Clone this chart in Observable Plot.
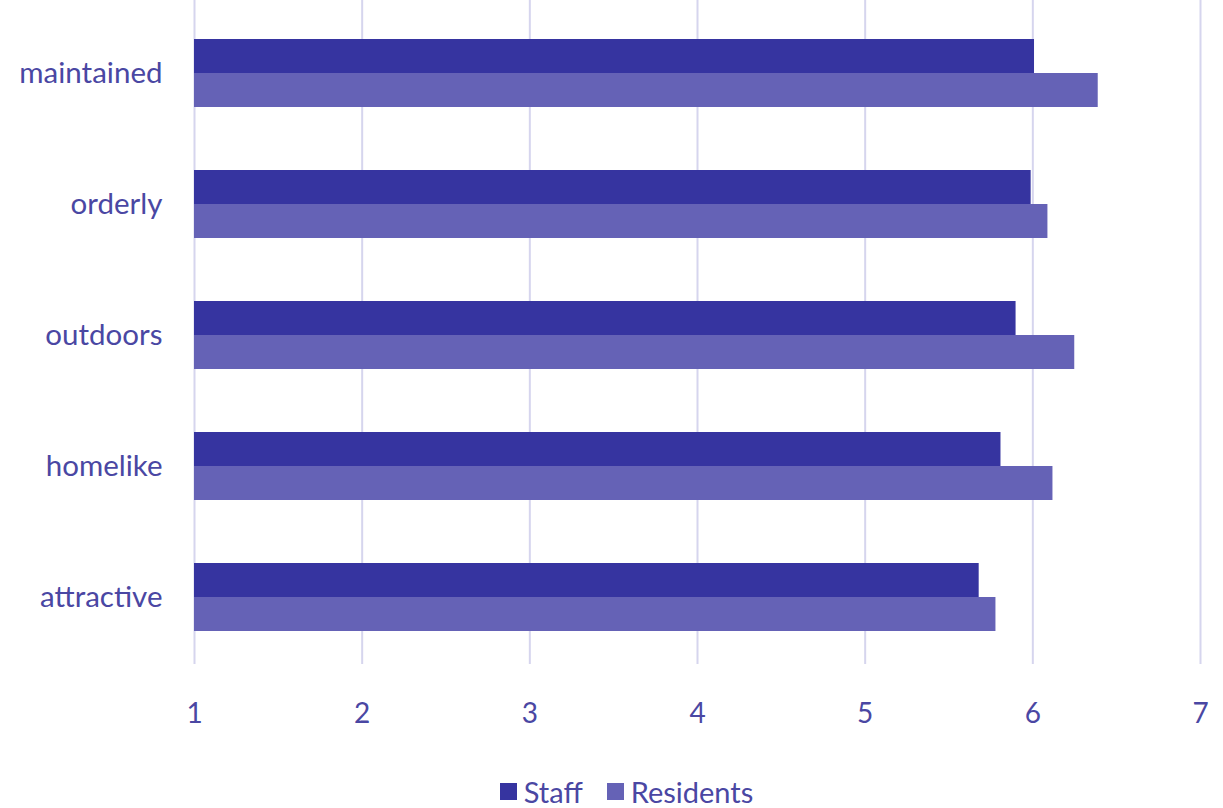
<!DOCTYPE html>
<html>
<head>
<meta charset="utf-8">
<script src="https://cdn.jsdelivr.net/npm/d3@7"></script>
<script src="https://cdn.jsdelivr.net/npm/@observablehq/plot@0.6"></script>
<style>
  html, body { margin: 0; padding: 0; background: #fff; }
  #chart svg { display: block; }
  .legend { display: flex; justify-content: center; align-items: center; height: 38px; margin-top: 6px;
            font-family: Lato, "Open Sans", sans-serif; font-size: 29px; color: #4a47a3; padding-left: 30px; }
  .legend span.sw { display: inline-block; width: 17px; height: 17px; margin-right: 7px; }
  .legend .item { display: flex; align-items: center; margin: 0 12px; }
</style>
</head>
<body>
<div id="chart"></div>
<div class="legend">
  <div class="item"><span class="sw" style="background:#3634a0"></span>Staff</div>
  <div class="item"><span class="sw" style="background:#6562b6"></span>Residents</div>
</div>
<script>
const categories = ["maintained", "orderly", "outdoors", "homelike", "attractive"];
const staff = [6.01, 5.99, 5.90, 5.81, 5.68];
const residents = [6.39, 6.09, 6.25, 6.12, 5.78];
const xTicks = [1, 2, 3, 4, 5, 6, 7];

const staffData = categories.map((c, i) => ({category: c, value: staff[i]}));
const resData = categories.map((c, i) => ({category: c, value: residents[i]}));

const textColor = "#4a47a3";
const chart = Plot.plot({
  width: 1223,
  height: 766,
  marginLeft: 194,
  marginRight: 23,
  marginTop: 6,
  marginBottom: 102,
  style: {fontFamily: "Lato, 'Open Sans', sans-serif", color: textColor, background: "#fff"},
  x: {domain: [1, 7]},
  y: {domain: categories, paddingInner: 0.483, paddingOuter: 0.2415},
  marks: [
    Plot.ruleX(xTicks, {stroke: "#d6d5ee", strokeWidth: 2, insetTop: -6}),
    Plot.barX(staffData, {y: "category", x1: 1, x2: "value", fill: "#3634a0", insetBottom: 34}),
    Plot.barX(resData, {y: "category", x1: 1, x2: "value", fill: "#6562b6", insetTop: 34}),
    Plot.axisX({ticks: xTicks, tickSize: 0, tickPadding: 39, fontSize: 28, tickFormat: d => String(d), label: null, fill: textColor}),
    Plot.axisY({tickSize: 0, tickPadding: 32, fontSize: 29.5, label: null, fill: textColor})
  ]
});
document.getElementById("chart").appendChild(chart);
</script>
</body>
</html>
